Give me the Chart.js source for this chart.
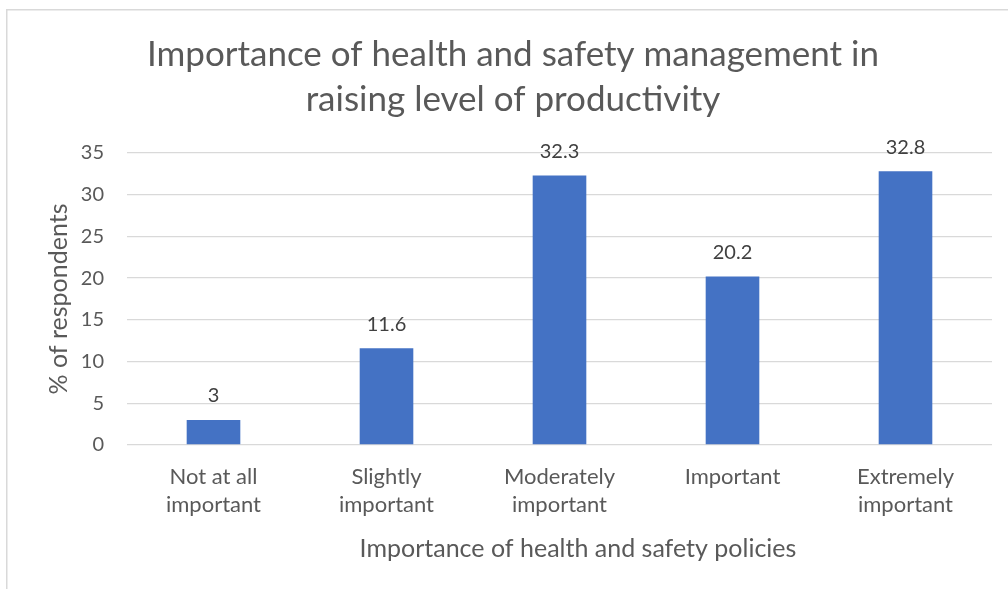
<!DOCTYPE html>
<html>
<head>
<meta charset="utf-8">
<script src="https://cdn.jsdelivr.net/npm/chart.js@4"></script>
<style>
  html, body { margin: 0; padding: 0; background: #fff; }
  #wrap { width: 1008px; height: 589px; }
</style>
</head>
<body>
<div id="wrap"><canvas id="myChart" width="1008" height="589"></canvas></div>
<script>
let categories = [["Not at all", "important"], ["Slightly", "important"], ["Moderately", "important"], ["Important"], ["Extremely", "important"]];
let values = [3, 11.6, 32.3, 20.2, 32.8];
let yTicks = [0, 5, 10, 15, 20, 25, 30, 35];
let titleLines = ["Importance of health and safety management in", "raising level of productivity"];
let xTitle = "Importance of health and safety policies";

// outer frame plus chart title and x axis title (placed like the office chart)
let framePlugin = {
    id: "frame",
    beforeDraw(chart) {
        let ctx = chart.ctx;
        ctx.save();
        ctx.strokeStyle = "#d9d9d9";
        ctx.lineWidth = 1.5;
        ctx.strokeRect(6.75, 9.75, 2000, 2000);
        ctx.restore();
    },
    afterDraw(chart) {
        let ctx = chart.ctx;
        ctx.save();
        ctx.fillStyle = "#595959";
        ctx.textAlign = "center";
        ctx.textBaseline = "middle";
        ctx.font = "35px Lato";
        titleLines.forEach((line, i) => {
            ctx.fillText(line, 513, 55 + i * 45);
        });
        ctx.font = "25px Lato";
        ctx.fillText(xTitle, 578, 549);
        ctx.restore();
    }
};

// value labels above the bars
let labelPlugin = {
    id: "valueLabels",
    afterDatasetsDraw(chart) {
        let ctx = chart.ctx;
        ctx.save();
        ctx.font = "20px Lato";
        ctx.fillStyle = "#404040";
        ctx.textAlign = "center";
        ctx.textBaseline = "middle";
        chart.getDatasetMeta(0).data.forEach((bar, i) => {
            ctx.fillText(String(values[i]), bar.x, bar.y - 24);
        });
        ctx.restore();
    }
};

let mychart = document.getElementById("myChart").getContext("2d");
let barChart = new Chart(mychart, {
    type: "bar",
    data: {
        labels: categories,
        datasets: [{
            data: values,
            backgroundColor: "#4472C4",
            borderWidth: 0,
            categoryPercentage: 1,
            barPercentage: 0.31
        }]
    },
    options: {
        responsive: false,
        animation: false,
        layout: { padding: { left: 10, right: 16, top: 153, bottom: 10 } },
        plugins: {
            legend: { display: false },
            tooltip: { enabled: false },
            title: { display: false }
        },
        scales: {
            x: {
                grid: { display: false, drawTicks: false },
                border: { display: false },
                ticks: {
                    color: "#595959",
                    font: { family: "Lato", size: 22, lineHeight: 1.27 },
                    padding: 18,
                    maxRotation: 0,
                    autoSkip: false
                },
                afterFit(scale) { scale.height = 134; }
            },
            y: {
                min: 0,
                max: 35,
                afterBuildTicks(scale) { scale.ticks = yTicks.map(v => ({ value: v })); },
                grid: { color: "#d9d9d9", lineWidth: 1.3, drawTicks: false },
                border: { display: false },
                ticks: {
                    color: "#595959",
                    font: { family: "Lato", size: 20 },
                    padding: 23
                },
                title: {
                    display: true,
                    text: "% of respondents",
                    color: "#595959",
                    font: { family: "Lato", size: 25 },
                    padding: { top: 34, bottom: 0 }
                },
                afterFit(scale) { scale.width = 117; }
            }
        }
    },
    plugins: [framePlugin, labelPlugin]
});
</script>
</body>
</html>
